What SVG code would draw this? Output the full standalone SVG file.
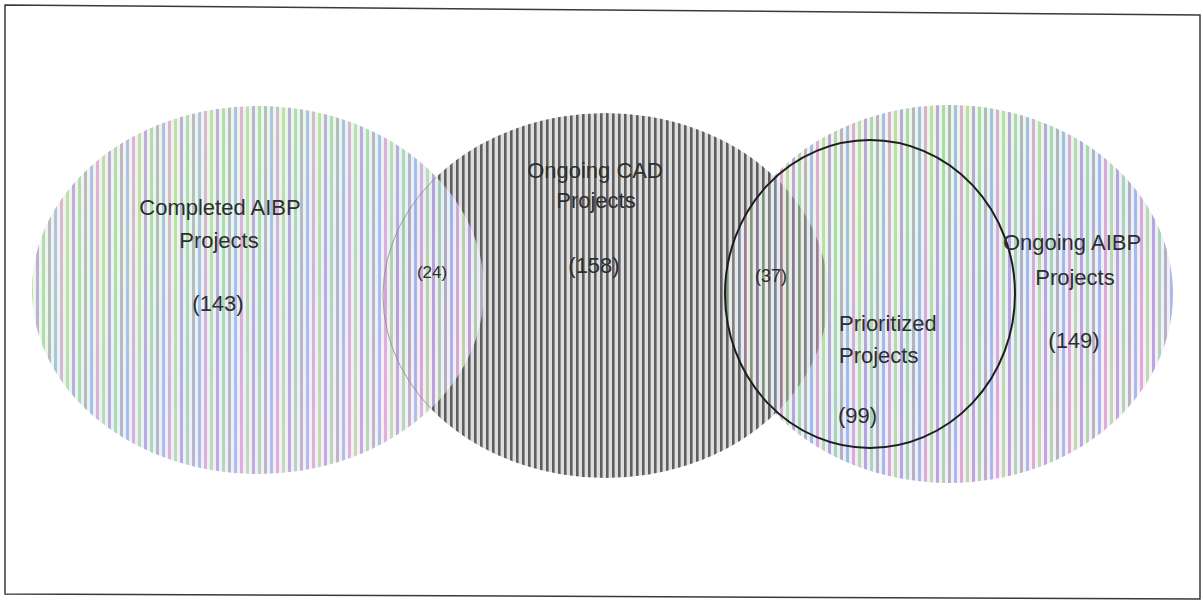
<svg xmlns="http://www.w3.org/2000/svg" width="1203" height="602" viewBox="0 0 1203 602">
  <style>
    .lbl { font-family: "Liberation Sans", Arial, sans-serif; font-size: 22px; fill: #2e2e2e; }
    .mid { text-anchor: middle; }
    .small { font-size: 17px; }
  </style>
  <defs>
    <pattern id="rainbow" x="0" y="0" width="36" height="20" patternUnits="userSpaceOnUse">
      <rect width="36" height="20" fill="#f8f8f8"/>
      <rect x="0" width="3" height="20" fill="#b49ed8"/>
      <rect x="6" width="3" height="20" fill="#a2d8a6"/>
      <rect x="12" width="3" height="20" fill="#aeaeb8"/>
      <rect x="18" width="3" height="20" fill="#9db6e8"/>
      <rect x="24" width="3" height="20" fill="#dca6d0"/>
      <rect x="30" width="3" height="20" fill="#b6de9c"/>
    </pattern>
    <pattern id="gray" x="0" y="0" width="6" height="20" patternUnits="userSpaceOnUse">
      <rect width="6" height="20" fill="#dedede"/>
      <rect x="0" width="2.6" height="20" fill="#5e5e5e"/>
    </pattern>
    <linearGradient id="tint" x1="0" y1="0" x2="1" y2="1">
      <stop offset="0" stop-color="#ffc0e8" stop-opacity="0.18"/>
      <stop offset="0.3" stop-color="#b8f0b0" stop-opacity="0.2"/>
      <stop offset="0.55" stop-color="#b0c8ff" stop-opacity="0.18"/>
      <stop offset="0.8" stop-color="#f0c0ff" stop-opacity="0.18"/>
      <stop offset="1" stop-color="#c0ffc0" stop-opacity="0.18"/>
    </linearGradient>
    <clipPath id="clipCad">
      <ellipse cx="605.5" cy="295.5" rx="222.5" ry="182.5"/>
    </clipPath>
    <clipPath id="clipLeft">
      <ellipse cx="258" cy="290" rx="226" ry="184"/>
    </clipPath>
  </defs>

  <rect width="1203" height="602" fill="#ffffff"/>
  <polygon points="5,5 1200,15 1200,599 5,594" fill="none" stroke="#3a3a3a" stroke-width="1.5"/>

  <g id="ongoing-aibp">
    <ellipse cx="949" cy="294" rx="224" ry="189" fill="url(#rainbow)"/>
    <ellipse cx="949" cy="294" rx="224" ry="189" fill="url(#tint)"/>
  </g>

  <g id="ongoing-cad">
    <ellipse cx="605.5" cy="295.5" rx="222.5" ry="182.5" fill="url(#gray)"/>
  </g>

  <g id="overlap-cad-aibp" clip-path="url(#clipCad)">
    <ellipse cx="949" cy="294" rx="224" ry="189" fill="url(#rainbow)" opacity="0.45"/>
  </g>

  <g id="completed-aibp">
    <ellipse cx="258" cy="290" rx="226" ry="184" fill="url(#rainbow)" opacity="0.93"/>
    <ellipse cx="258" cy="290" rx="226" ry="184" fill="url(#tint)"/>
    <ellipse cx="605.5" cy="295.5" rx="222.5" ry="182.5" fill="none" stroke="#8a8a8a" stroke-width="0.8" clip-path="url(#clipLeft)"/>
  </g>

  <g id="prioritized">
    <ellipse cx="870" cy="294" rx="145" ry="154" fill="none" stroke="#1e1e1e" stroke-width="2"/>
  </g>

  <g id="connectors"></g>

  <g id="labels">
    <text class="lbl mid" x="220" y="215">Completed AIBP</text>
    <text class="lbl mid" x="219" y="248">Projects</text>
    <text class="lbl mid" x="218" y="311">(143)</text>
    <text class="lbl mid small" x="432" y="278">(24)</text>
    <text class="lbl mid" x="595" y="178">Ongoing CAD</text>
    <text class="lbl mid" x="596" y="208">Projects</text>
    <text class="lbl mid" x="594" y="273">(158)</text>
    <text class="lbl mid" x="771" y="282" style="font-size:18px">(37)</text>
    <text class="lbl mid" x="1072" y="250">Ongoing AIBP</text>
    <text class="lbl mid" x="1075" y="285">Projects</text>
    <text class="lbl mid" x="1074" y="348">(149)</text>
    <text class="lbl" x="839" y="331">Prioritized</text>
    <text class="lbl" x="839" y="363">Projects</text>
    <text class="lbl" x="838" y="423">(99)</text>
  </g>
</svg>
